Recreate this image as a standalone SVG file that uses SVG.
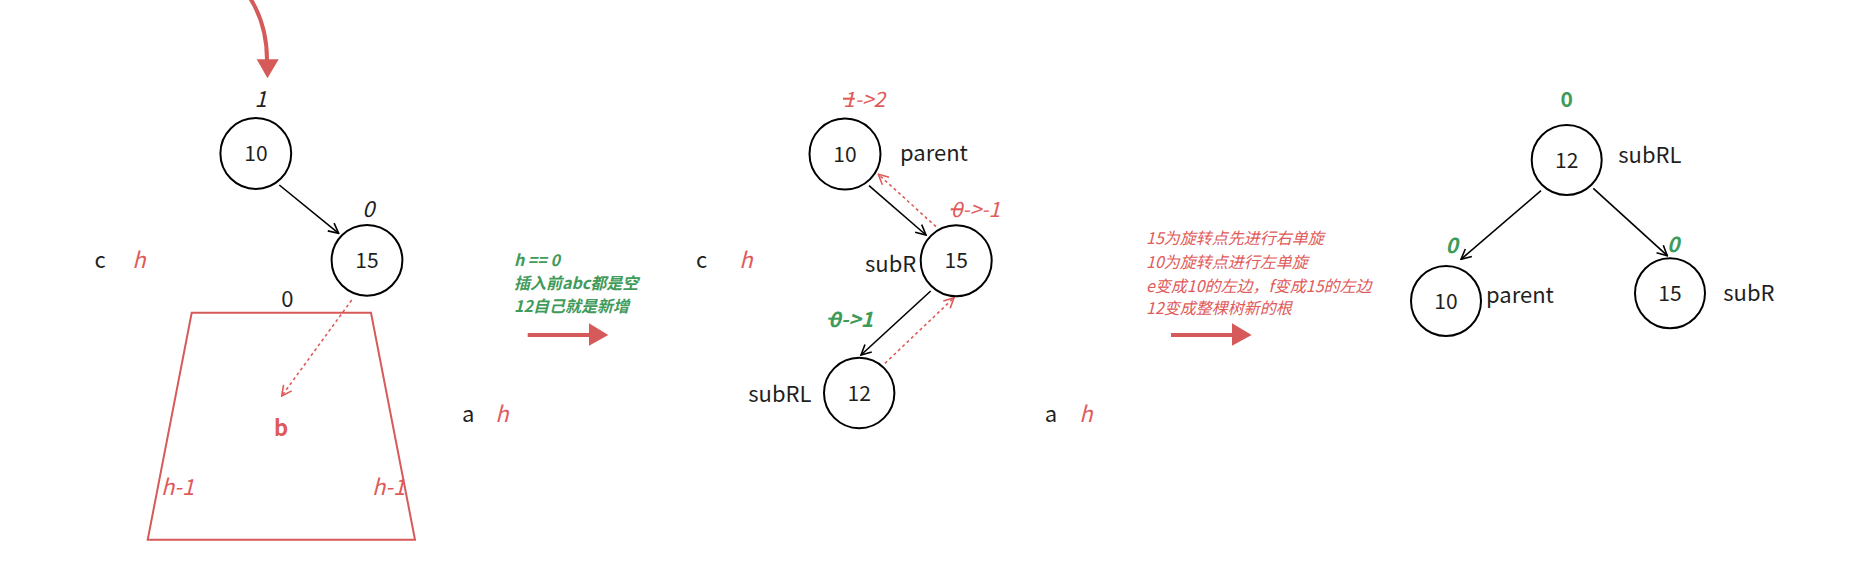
<svg xmlns="http://www.w3.org/2000/svg" width="1865" height="567" viewBox="0 0 1865 567">
<defs>
<style>
text{font-family:"Noto Sans CJK SC","Noto Sans",sans-serif;fill:#1f1f1f}
.lbl{font-size:22px}
.num{font-size:21px;text-anchor:middle}
.it{font-style:italic}
.red{fill:#e05a5a}
.grn{fill:#3f9b5a}
.bf{font-weight:bold}
.note{font-size:16px;font-style:italic}
.node{fill:#fff;stroke:#000;stroke-width:2}
.edge{stroke:#000;stroke-width:1.6;fill:none;marker-end:url(#ab)}
.dash{stroke:#e05a5a;stroke-width:1.6;fill:none;stroke-dasharray:3 3;marker-end:url(#ar)}
.big{stroke:#d65a5a;stroke-width:4;fill:none}
.head{fill:#d65a5a}
.st{text-decoration:line-through}
</style>
<marker id="ab" viewBox="0 0 12 12" refX="11" refY="6" markerWidth="12" markerHeight="12" markerUnits="userSpaceOnUse" orient="auto">
<path d="M1,1 L11,6 L1,11" fill="none" stroke="#000" stroke-width="1.6"/>
</marker>
<marker id="ar" viewBox="0 0 12 12" refX="11" refY="6" markerWidth="12" markerHeight="12" markerUnits="userSpaceOnUse" orient="auto">
<path d="M1,1 L11,6 L1,11" fill="none" stroke="#e05a5a" stroke-width="1.6"/>
</marker>
</defs>
<rect width="1865" height="567" fill="#fff"/>

<g id="connectors">
<path class="big" d="M250,-2 Q267,25 267,60"/>
<polygon class="head" points="256.7,59.3 278.7,59.3 267.5,78.3"/>
<line class="edge" x1="279.3" y1="185" x2="338.7" y2="233.3"/>
<line class="dash" x1="351.7" y1="300" x2="281.7" y2="396"/>
<line class="big" x1="527.7" y1="335" x2="590" y2="335"/>
<polygon class="head" points="589,323.3 589,345.7 608.3,335"/>
<line class="edge" x1="869" y1="185.7" x2="926" y2="235"/>
<line class="dash" x1="936" y1="226.7" x2="878.3" y2="174.3"/>
<line class="edge" x1="930.7" y1="291" x2="861" y2="355"/>
<line class="dash" x1="885" y1="363.3" x2="954" y2="297.7"/>
<line class="big" x1="1171" y1="335" x2="1233" y2="335"/>
<polygon class="head" points="1232,323.3 1232,345.7 1251.7,335"/>
<line class="edge" x1="1541" y1="190.7" x2="1461" y2="259.3"/>
<line class="edge" x1="1593.3" y1="188.3" x2="1667.3" y2="255.7"/>
</g>

<g id="left-tree">
<g id="l-n10"><circle class="node" cx="255.8" cy="153.5" r="35.4"/><text class="num" x="256" y="161">10</text></g>
<text class="lbl it" x="260.7" y="106.7" text-anchor="middle">1</text>
<g id="l-n15"><circle class="node" cx="367" cy="260.3" r="35.4"/><text class="num" x="367" y="268">15</text></g>
<text class="lbl it" x="368.3" y="217.3" text-anchor="middle">0</text>
<g id="l-sub-b">
<polygon points="191.7,312.7 371,312.7 415,539.7 147.7,539.7" fill="none" stroke="#d65a5a" stroke-width="2"/>
<text class="lbl" x="287.3" y="307.3" text-anchor="middle">0</text>
<text class="lbl red bf" x="281" y="436" text-anchor="middle">b</text>
<text class="lbl red it" x="161" y="495">h-1</text>
<text class="lbl red it" x="372" y="495">h-1</text>
</g>
<g id="l-c"><text class="lbl" x="100" y="268" text-anchor="middle">c</text><text class="lbl red it" x="139" y="268" text-anchor="middle">h</text></g>
<g id="l-a"><text class="lbl" x="468.3" y="422" text-anchor="middle">a</text><text class="lbl red it" x="502" y="422" text-anchor="middle">h</text></g>
</g>

<g id="note1" class="note bf">
<text class="grn" x="514" y="265.7">h == 0</text>
<text class="grn" x="514" y="289.3">插入前abc都是空</text>
<text class="grn" x="514" y="311.7">12自己就是新增</text>
</g>

<g id="mid-tree">
<g id="m-n10"><circle class="node" cx="845" cy="154" r="35.5"/><text class="num" x="845" y="161.5">10</text></g>
<text class="red it" x="843" y="106.7" style="font-size:21px"><tspan class="st">1</tspan>-&gt;2</text>
<text class="lbl" x="900" y="161">parent</text>
<g id="m-n15"><circle class="node" cx="956.2" cy="260.7" r="35.5"/><text class="num" x="956.2" y="268.2">15</text></g>
<text class="red it" x="950.7" y="217.3" style="font-size:21px"><tspan class="st">0</tspan>-&gt;-1</text>
<text class="lbl" x="865" y="272">subR</text>
<g id="m-n12"><circle class="node" cx="859.2" cy="393" r="35.2"/><text class="num" x="859.2" y="400.5">12</text></g>
<text class="grn it bf" x="828.3" y="326.7" style="font-size:21px"><tspan class="st">0</tspan>-&gt;1</text>
<text class="lbl" x="748.3" y="402.3">subRL</text>
<g id="m-c"><text class="lbl" x="701.7" y="268" text-anchor="middle">c</text><text class="lbl red it" x="746" y="268" text-anchor="middle">h</text></g>
<g id="m-a"><text class="lbl" x="1051" y="422" text-anchor="middle">a</text><text class="lbl red it" x="1086" y="422" text-anchor="middle">h</text></g>
</g>

<g id="note2" class="note">
<text class="red" x="1146" y="244.3">15为旋转点先进行右单旋</text>
<text class="red" x="1146" y="267.7">10为旋转点进行左单旋</text>
<text class="red" x="1146" y="291.7">e变成10的左边，f变成15的左边</text>
<text class="red" x="1146" y="314.3">12变成整棵树新的根</text>
</g>

<g id="right-tree">
<g id="r-n12"><circle class="node" cx="1566.7" cy="160" r="35"/><text class="num" x="1566.7" y="167.5">12</text></g>
<text class="grn bf" x="1566.7" y="106.7" text-anchor="middle" style="font-size:21px">0</text>
<text class="lbl" x="1618.3" y="163.3">subRL</text>
<g id="r-n10"><circle class="node" cx="1446" cy="301" r="35"/><text class="num" x="1446" y="308.5">10</text></g>
<text class="grn bf it" x="1451.7" y="253.3" text-anchor="middle" style="font-size:21px">0</text>
<text class="lbl" x="1486" y="303.3">parent</text>
<g id="r-n15"><circle class="node" cx="1670" cy="293.3" r="35"/><text class="num" x="1670" y="300.8">15</text></g>
<text class="grn bf it" x="1673.3" y="251.7" text-anchor="middle" style="font-size:21px">0</text>
<text class="lbl" x="1723.3" y="301">subR</text>
</g>
</svg>
